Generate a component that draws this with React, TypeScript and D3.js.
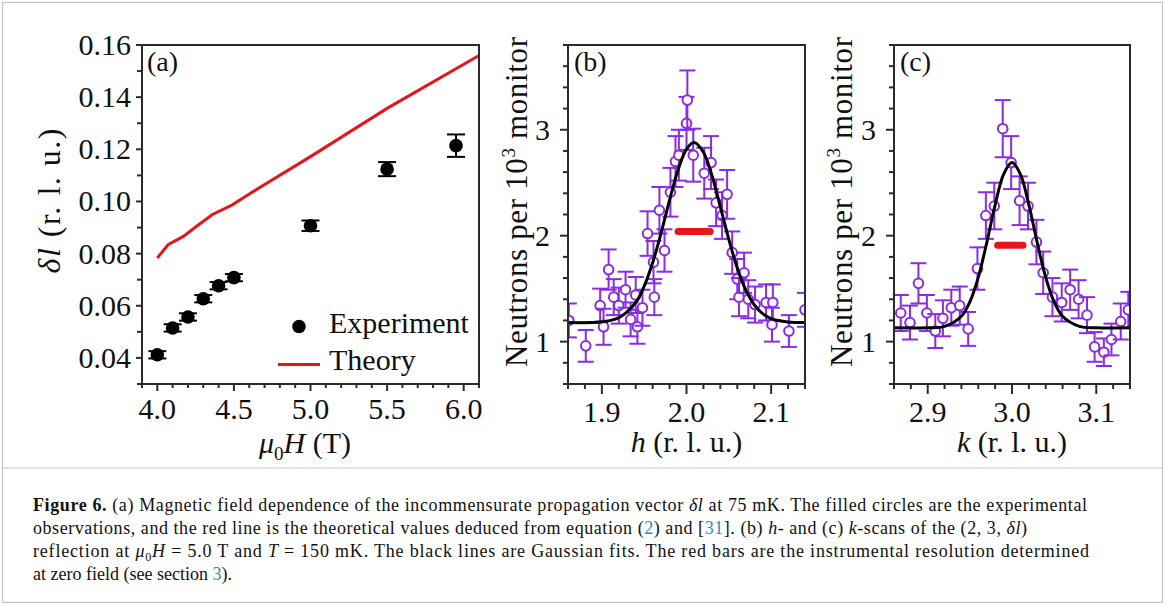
import React from 'react';
import * as d3 from 'd3';

// ---------- Panel (a) data ----------
const fieldExp = [4.0, 4.1, 4.2, 4.3, 4.4, 4.5, 5.0, 5.5, 5.95];
const deltaExp = [0.0412, 0.0515, 0.0557, 0.0627, 0.0677, 0.0708, 0.0907, 0.1124, 0.1214];
const deltaErr = [0.0014, 0.0014, 0.0014, 0.0014, 0.0014, 0.0014, 0.002, 0.0027, 0.0043];
const fieldTheory = [4.0, 4.07, 4.17, 4.25, 4.36, 4.49, 4.59, 5.0, 5.5, 6.1];
const deltaTheory = [0.0783, 0.0834, 0.0866, 0.0902, 0.095, 0.0987, 0.1025, 0.1172, 0.1357, 0.156];
const aXMajor = [4.0, 4.5, 5.0, 5.5, 6.0];
const aXLabels = ['4.0', '4.5', '5.0', '5.5', '6.0'];
const aXMinor = [3.9, 4.1, 4.2, 4.3, 4.4, 4.6, 4.7, 4.8, 4.9, 5.1, 5.2, 5.3, 5.4, 5.6, 5.7, 5.8, 5.9, 6.1];
const aYMajor = [0.04, 0.06, 0.08, 0.1, 0.12, 0.14, 0.16];
const aYLabels = ['0.04', '0.06', '0.08', '0.10', '0.12', '0.14', '0.16'];
const aYMinor = [0.03, 0.05, 0.07, 0.09, 0.11, 0.13, 0.15];

// ---------- Panel (b) data ----------
const bH = [1.861, 1.881, 1.898, 1.902, 1.908, 1.914, 1.92, 1.928, 1.934, 1.94, 1.942, 1.948, 1.954, 1.961, 1.962, 1.968, 1.974, 1.981, 1.987, 1.991, 2.0, 2.001, 2.008, 2.021, 2.029, 2.035, 2.042, 2.048, 2.054, 2.06, 2.062, 2.068, 2.073, 2.081, 2.094, 2.102, 2.101, 2.121, 2.14];
const bCount = [1.2, 0.96, 1.34, 1.14, 1.68, 1.42, 1.34, 1.49, 1.21, 1.44, 1.14, 1.32, 2.02, 1.75, 1.42, 2.24, 1.86, 2.41, 2.7, 2.76, 3.06, 3.28, 2.76, 2.59, 2.69, 2.31, 2.19, 2.39, 1.84, 1.59, 1.42, 1.65, 1.4, 1.35, 1.37, 1.37, 1.16, 1.1, 1.3];
const bErr = [0.16, 0.15, 0.16, 0.17, 0.19, 0.17, 0.17, 0.17, 0.16, 0.17, 0.16, 0.17, 0.21, 0.2, 0.17, 0.22, 0.2, 0.23, 0.24, 0.24, 0.25, 0.28, 0.25, 0.24, 0.25, 0.22, 0.22, 0.23, 0.2, 0.19, 0.18, 0.19, 0.18, 0.17, 0.17, 0.17, 0.16, 0.15, 0.16];
const bFitH = [1.86, 1.9, 1.92, 1.94, 1.95, 1.96, 1.97, 1.98, 1.99, 2.0, 2.009, 2.02, 2.03, 2.04, 2.05, 2.06, 2.07, 2.08, 2.09, 2.1, 2.12, 2.14];
const bFitY = [1.18, 1.187, 1.225, 1.37, 1.524, 1.745, 2.026, 2.336, 2.62, 2.818, 2.88, 2.788, 2.569, 2.273, 1.965, 1.695, 1.488, 1.348, 1.264, 1.218, 1.186, 1.18];
const bResH = [1.99, 2.028];
const bResY = 2.04;
const bXMajor = [1.9, 2.0, 2.1];
const bXLabels = ['1.9', '2.0', '2.1'];
const bXMinor = [1.86, 1.88, 1.92, 1.94, 1.96, 1.98, 2.02, 2.04, 2.06, 2.08, 2.12, 2.14];

// ---------- Panel (c) data ----------
const cK = [2.868, 2.879, 2.889, 2.899, 2.909, 2.918, 2.928, 2.938, 2.948, 2.959, 2.969, 2.979, 2.989, 2.999, 3.009, 3.019, 3.029, 3.037, 3.048, 3.059, 3.069, 3.079, 3.089, 3.098, 3.109, 3.118, 3.129, 3.138];
const cCount = [1.27, 1.18, 1.55, 1.27, 1.1, 1.22, 1.32, 1.34, 1.12, 1.69, 2.19, 2.28, 3.01, 2.69, 2.33, 2.28, 1.94, 1.65, 1.42, 1.37, 1.49, 1.4, 1.25, 0.95, 0.9, 1.02, 1.19, 1.3];
const cErr = [0.17, 0.16, 0.19, 0.17, 0.16, 0.17, 0.17, 0.18, 0.16, 0.2, 0.22, 0.22, 0.27, 0.25, 0.23, 0.22, 0.21, 0.2, 0.18, 0.18, 0.19, 0.18, 0.17, 0.14, 0.13, 0.15, 0.17, 0.17];
const cFitK = [2.86, 2.9, 2.92, 2.94, 2.95, 2.96, 2.97, 2.98, 2.99, 3.0, 3.01, 3.02, 3.03, 3.04, 3.05, 3.06, 3.08, 3.1, 3.14];
const cFitY = [1.13, 1.131, 1.144, 1.239, 1.375, 1.607, 1.932, 2.29, 2.579, 2.69, 2.579, 2.29, 1.932, 1.607, 1.375, 1.239, 1.144, 1.131, 1.13];
const cResK = [2.983, 3.013];
const cResY = 1.91;
const cXMajor = [2.9, 3.0, 3.1];
const cXLabels = ['2.9', '3.0', '3.1'];
const cXMinor = [2.86, 2.88, 2.92, 2.94, 2.96, 2.98, 3.02, 3.04, 3.06, 3.08, 3.12, 3.14];

// shared y ticks of (b),(c)
const nYMajor = [1, 2, 3];
const nYLabels = ['1', '2', '3'];
const nYMinor = [0.6, 0.8, 1.2, 1.4, 1.6, 1.8, 2.2, 2.4, 2.6, 2.8, 3.2, 3.4, 3.6, 3.8];

const RED = '#e3161c';
const PURPLE = '#8a2be8';
const FRAME = '#2b2b2b';
const BLUE = '#2a8cc4';
const FONT = '"Liberation Serif", "Times New Roman", serif';
const TICK = 30;

type ScanProps = {
  id: string;
  x: d3.ScaleLinear<number, number>;
  y: d3.ScaleLinear<number, number>;
  px: number[]; py: number[]; pe: number[];
  fx: number[]; fy: number[];
  res: number[]; resY: number;
  xMajor: number[]; xLabels: string[]; xMinor: number[];
  letter: string; varName: string; ylabX: number;
};

function Frame({ x0, x1, y0, y1 }: { x0: number; x1: number; y0: number; y1: number }) {
  return <rect x={x0} y={y0} width={x1 - x0} height={y1 - y0} fill="none" stroke={FRAME} strokeWidth={2} />;
}

function ScanPanel(p: ScanProps) {
  const [x0, x1] = p.x.range();
  const [y1, y0] = p.y.range();
  const line = d3.line<number>().x((_, i) => p.x(p.fx[i])).y((d) => p.y(d)).curve(d3.curveCatmullRom.alpha(0.5));
  return (
    <g>
      <defs>
        <clipPath id={p.id}>
          <rect x={x0} y={y0} width={x1 - x0} height={y1 - y0} />
        </clipPath>
      </defs>
      <g clipPath={`url(#${p.id})`}>
        {p.px.map((v, i) => {
          const cx = p.x(v);
          const cy = p.y(p.py[i]);
          const t = p.y(p.py[i] + p.pe[i]);
          const b = p.y(p.py[i] - p.pe[i]);
          return (
            <g key={i} stroke={PURPLE} strokeWidth={2} fill="none">
              <line x1={cx} x2={cx} y1={t} y2={cy - 4.8} />
              <line x1={cx} x2={cx} y1={cy + 4.8} y2={b} />
              <line x1={cx - 8} x2={cx + 8} y1={t} y2={t} />
              <line x1={cx - 8} x2={cx + 8} y1={b} y2={b} />
              <circle cx={cx} cy={cy} r={4.8} fill="white" />
            </g>
          );
        })}
        <path d={line(p.fy) || ''} fill="none" stroke="#000" strokeWidth={3} />
        <line x1={p.x(p.res[0])} x2={p.x(p.res[1])} y1={p.y(p.resY)} y2={p.y(p.resY)} stroke={RED} strokeWidth={7} strokeLinecap="round" />
      </g>
      <Frame x0={x0} x1={x1} y0={y0} y1={y1} />
      {p.xMajor.map((v, i) => (
        <g key={'xm' + i}>
          <line x1={p.x(v)} x2={p.x(v)} y1={y1} y2={y1 + 10} stroke={FRAME} strokeWidth={2} />
          <text x={p.x(v)} y={422} textAnchor="middle" fontSize={TICK} fontFamily={FONT} fill="#111">{p.xLabels[i]}</text>
        </g>
      ))}
      {p.xMinor.map((v, i) => (
        <line key={'xn' + i} x1={p.x(v)} x2={p.x(v)} y1={y1} y2={y1 + 5} stroke={FRAME} strokeWidth={2} />
      ))}
      {nYMajor.map((v, i) => (
        <g key={'ym' + i}>
          <line x1={x0 - 8} x2={x0} y1={p.y(v)} y2={p.y(v)} stroke={FRAME} strokeWidth={2} />
          <text x={x0 - 18} y={p.y(v) + 10} textAnchor="end" fontSize={TICK} fontFamily={FONT} fill="#111">{nYLabels[i]}</text>
        </g>
      ))}
      {nYMinor.map((v, i) => (
        <line key={'yn' + i} x1={x0 - 5} x2={x0} y1={p.y(v)} y2={p.y(v)} stroke={FRAME} strokeWidth={2} />
      ))}
      <text x={x0 + 6} y={71} fontSize={28} fontFamily={FONT} fill="#111">{p.letter}</text>
      <text x={(x0 + x1) / 2} y={452} textAnchor="middle" fontSize={30} fontFamily={FONT} fill="#111">
        <tspan fontStyle="italic">{p.varName}</tspan> (r. l. u.)
      </text>
      <text transform={`translate(${p.ylabX},202) rotate(-90)`} textAnchor="middle" fontSize={31} fontFamily={FONT} fill="#111"
        textLength={330} lengthAdjust="spacing">
        Neutrons per 10<tspan fontSize={19} dy={-12}>3</tspan><tspan dy={12}> monitor</tspan>
      </text>
    </g>
  );
}

export default function App() {
  const xa = d3.scaleLinear().domain([3.9, 6.1]).range([142, 479]);
  const ya = d3.scaleLinear().domain([0.03, 0.16]).range([384, 45]);
  const xb = d3.scaleLinear().domain([1.86, 2.14]).range([568, 805]);
  const yb = d3.scaleLinear().domain([0.6, 3.8]).range([384, 45]);
  const xc = d3.scaleLinear().domain([2.86, 3.14]).range([894, 1130]);
  const yc = d3.scaleLinear().domain([0.6, 3.8]).range([384, 45]);

  const theoryLine = d3.line<number>().x((d) => xa(d)).y((_, i) => ya(deltaTheory[i]));

  return (
    <svg width={1165} height={605} style={{ position: 'absolute', left: 0, top: 0, background: '#fff' }} fontFamily={FONT}>
      <rect x={0} y={0} width={1165} height={605} fill="#fff" />
      <rect x={2.5} y={2.5} width={1160} height={600} fill="none" stroke="#c4c4c4" strokeWidth={1.2} />
      <line x1={2.5} x2={1162.5} y1={468} y2={468} stroke="#c4c4c4" strokeWidth={1.2} />

      {/* ---------- panel (a) ---------- */}
      <path d={theoryLine(fieldTheory) || ''} fill="none" stroke={RED} strokeWidth={3} />
      {fieldExp.map((v, i) => {
        const cx = xa(v);
        const t = ya(deltaExp[i] + deltaErr[i]);
        const b = ya(deltaExp[i] - deltaErr[i]);
        return (
          <g key={i} stroke="#000" strokeWidth={2}>
            <line x1={cx} x2={cx} y1={t} y2={b} />
            <line x1={cx - 9} x2={cx + 9} y1={t} y2={t} />
            <line x1={cx - 9} x2={cx + 9} y1={b} y2={b} />
            <circle cx={cx} cy={ya(deltaExp[i])} r={6.8} fill="#000" stroke="none" />
          </g>
        );
      })}
      <Frame x0={142} x1={479} y0={45} y1={384} />
      {aXMajor.map((v, i) => (
        <g key={'axm' + i}>
          <line x1={xa(v)} x2={xa(v)} y1={384} y2={391} stroke={FRAME} strokeWidth={2} />
          <text x={xa(v)} y={419} textAnchor="middle" fontSize={TICK} fill="#111">{aXLabels[i]}</text>
        </g>
      ))}
      {aXMinor.map((v, i) => (
        <line key={'axn' + i} x1={xa(v)} x2={xa(v)} y1={384} y2={388} stroke={FRAME} strokeWidth={2} />
      ))}
      {aYMajor.map((v, i) => (
        <g key={'aym' + i}>
          <line x1={136} x2={142} y1={ya(v)} y2={ya(v)} stroke={FRAME} strokeWidth={2} />
          <text x={131} y={ya(v) + 10} textAnchor="end" fontSize={TICK} fill="#111">{aYLabels[i]}</text>
        </g>
      ))}
      {aYMinor.map((v, i) => (
        <line key={'ayn' + i} x1={137} x2={142} y1={ya(v)} y2={ya(v)} stroke={FRAME} strokeWidth={2} />
      ))}
      <text x={147} y={71} fontSize={28} fill="#111">(a)</text>
      <circle cx={299} cy={326.5} r={6.8} fill="#000" />
      <text x={329} y={333} fontSize={30} fill="#111">Experiment</text>
      <line x1={278} x2={320} y1={364.5} y2={364.5} stroke={RED} strokeWidth={3} />
      <text x={329} y={370} fontSize={30} fill="#111">Theory</text>
      <text x={305} y={453} textAnchor="middle" fontSize={30} fill="#111">
        <tspan fontStyle="italic">μ</tspan><tspan fontSize={19} dy={7}>0</tspan><tspan fontStyle="italic" dy={-7}>H</tspan> (T)
      </text>
      <text transform="translate(60,201) rotate(-90)" textAnchor="middle" fontSize={32} fill="#111"
        textLength={145} lengthAdjust="spacing">
        <tspan fontStyle="italic">δl</tspan> (r. l. u.)
      </text>

      {/* ---------- panel (b) ---------- */}
      <ScanPanel id="clipB" x={xb} y={yb} px={bH} py={bCount} pe={bErr} fx={bFitH} fy={bFitY} res={bResH} resY={bResY}
        xMajor={bXMajor} xLabels={bXLabels} xMinor={bXMinor} letter="(b)" varName="h" ylabX={527} />
      {/* ---------- panel (c) ---------- */}
      <ScanPanel id="clipC" x={xc} y={yc} px={cK} py={cCount} pe={cErr} fx={cFitK} fy={cFitY} res={cResK} resY={cResY}
        xMajor={cXMajor} xLabels={cXLabels} xMinor={cXMinor} letter="(c)" varName="k" ylabX={852} />

      {/* ---------- caption ---------- */}
      <g fontSize={18} fill="#111">
        <text x={33} y={511} textLength={1054} lengthAdjust="spacing">
          <tspan fontWeight="bold">Figure 6.</tspan> (a) Magnetic field dependence of the incommensurate propagation vector <tspan fontStyle="italic">δl</tspan> at 75 mK. The filled circles are the experimental
        </text>
        <text x={33} y={534} textLength={994} lengthAdjust="spacing">
          observations, and the red line is the theoretical values deduced from equation (<tspan fill={BLUE}>2</tspan>) and [<tspan fill={BLUE}>31</tspan>]. (b) <tspan fontStyle="italic">h</tspan>- and (c) <tspan fontStyle="italic">k</tspan>-scans of the (2, 3, <tspan fontStyle="italic">δl</tspan>)
        </text>
        <text x={33} y={557} textLength={1056} lengthAdjust="spacing">
          reflection at <tspan fontStyle="italic">μ</tspan><tspan fontSize={12} dy={4}>0</tspan><tspan fontStyle="italic" dy={-4}>H</tspan> =  5.0 T and <tspan fontStyle="italic">T</tspan> =  150 mK. The black lines are Gaussian fits. The red bars are the instrumental resolution determined
        </text>
        <text x={33} y={580}>
          at zero field (see section <tspan fill={BLUE}>3</tspan>).
        </text>
      </g>
    </svg>
  );
}
